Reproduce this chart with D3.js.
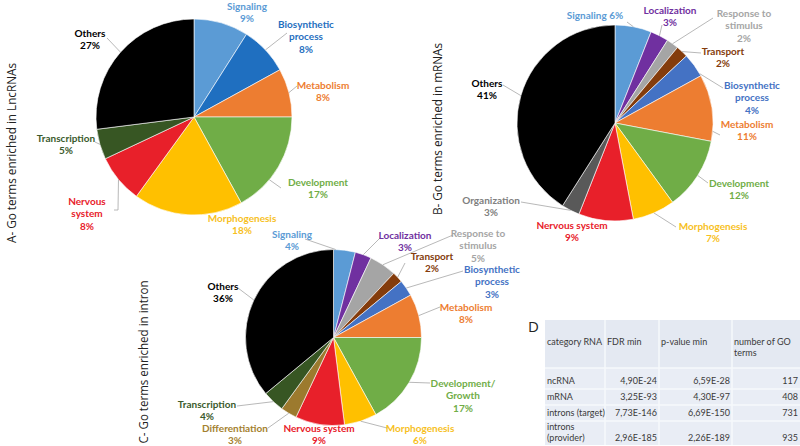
<!DOCTYPE html>
<html>
<head>
<meta charset="utf-8">
<script src="https://cdn.jsdelivr.net/npm/d3@7"></script>
<style>
  body { margin: 0; background: #fff; }
  svg { display: block; font-family: Lato, "Open Sans", sans-serif; }
</style>
</head>
<body>
<div id="chart"></div>
<script>
// A - GO terms in lncRNAs
const categoriesA = ["Signaling", "Biosynthetic\nprocess", "Metabolism", "Development", "Morphogenesis", "Nervous\nsystem", "Transcription", "Others"];
const valuesA = [9, 8, 8, 17, 18, 8, 5, 27];

// B - GO terms in mRNAs
const categoriesB = ["Signaling", "Localization", "Response to\nstimulus", "Transport", "Biosynthetic\nprocess", "Metabolism", "Development", "Morphogenesis", "Nervous system", "Organization", "Others"];
const valuesB = [6, 3, 2, 2, 4, 11, 12, 7, 9, 3, 41];

// C - GO terms in introns
const categoriesC = ["Signaling", "Localization", "Response to\nstimulus", "Transport", "Biosynthetic\nprocess", "Metabolism", "Development/\nGrowth", "Morphogenesis", "Nervous system", "Differentiation", "Transcription", "Others"];
const valuesC = [4, 3, 5, 2, 3, 8, 17, 6, 9, 3, 4, 36];

// D - table
const tableHeaders = ["category RNA", "FDR min", "p-value min", "number of GO\nterms"];
const rnaCategories = ["ncRNA", "mRNA", "introns (target)", "introns\n(provider)"];
const fdrMin = ["4,90E-24", "3,25E-93", "7,73E-146", "2,96E-185"];
const pValueMin = ["6,59E-28", "4,30E-97", "6,69E-150", "2,26E-189"];
const goTermCounts = [117, 408, 731, 935];

const titles = ["A- Go terms enriched  in LncRNAs", "B- Go terms enriched  in mRNAs", "C- Go terms enriched  in intron"];

/*
COLOURS
*/
const palette = {
    Signaling: "#5b9bd5", Localization: "#7030a0", Response: "#a5a5a5", Transport: "#843c0c",
    Biosynthetic: "#4472c4", Metabolism: "#ed7d31", Development: "#70ad47", Morphogenesis: "#ffc000",
    Nervous: "#e8202a", Organization: "#595959", Differentiation: "#9c7a2e", Transcription: "#375623",
    Others: "#000000"
};
const textColor = { Organization: "#808080", Morphogenesis: "#f7bf1e", Transcription: "#3b5a2c", Differentiation: "#a4812f" };
const key = name => name.split(/[ \/\n]/)[0];

/*
LABEL LAYOUT (first line centre, leader line)
*/
const layoutA = [
    { x: 247, y: 6 },
    { x: 306, y: 24, lead: [[287, 33]] },
    { x: 323, y: 85, lead: [[297, 86]] },
    { x: 318, y: 182, t: 0.65, lead: [[281, 188]] },
    { x: 242, y: 218 },
    { x: 87, y: 201, lead: [[118, 210], [114, 210]] },
    { x: 66, y: 138, lead: [[95, 142]] },
    { x: 90, y: 33, lead: [[107, 38]] }
];
const layoutB = [
    { x: 595, y: 15, inline: true, lead: [[627, 22]] },
    { x: 670, y: 10, lead: [[662, 25]] },
    { x: 744, y: 13, lead: [[713, 18]] },
    { x: 723, y: 51, lead: [[701, 53]] },
    { x: 752, y: 85, t: 0.9, lead: [[723, 88]] },
    { x: 747, y: 124, t: 0.85, lead: [[720, 135]] },
    { x: 739, y: 183, lead: [[708, 183]] },
    { x: 713, y: 226, lead: [[676, 227]] },
    { x: 572, y: 225 },
    { x: 491, y: 200, lead: [[521, 202]] },
    { x: 487, y: 83, lead: [[503, 85]] }
];
const layoutC = [
    { x: 292, y: 234, t: 0.1, lead: [[305, 239]] },
    { x: 405, y: 235, lead: [[380, 238]] },
    { x: 478, y: 233, lead: [[453, 235]] },
    { x: 432, y: 256, lead: [[405, 263]] },
    { x: 492, y: 269, lead: [[463, 271]] },
    { x: 466, y: 307, lead: [[440, 307]] },
    { x: 463, y: 383, lead: [[430, 383]] },
    { x: 420, y: 428, lead: [[387, 428]] },
    { x: 319, y: 428 },
    { x: 235, y: 428, lead: [[268, 428]] },
    { x: 207, y: 404, lead: [[237, 406]] },
    { x: 223, y: 286, lead: [[238, 288]] }
];

const width = 800, height = 446;
const svg = d3.select("#chart").append("svg")
    .attr("width", width)
    .attr("height", height);

const pie = d3.pie().sort(null).value(d => d.value);

function drawPie(cats, vals, cx, cy, r, layout, override = {}) {
    const data = pie(cats.map((c, i) => ({ name: c, value: vals[i] })));
    const arc = d3.arc().innerRadius(0).outerRadius(r);
    const g = svg.append("g").attr("transform", `translate(${cx},${cy})`);

    g.selectAll("path")
        .data(data)
        .enter()
        .append("path")
        .attr("d", arc)
        .attr("fill", d => override[key(d.data.name)] || palette[key(d.data.name)])
        .attr("stroke", "#fff")
        .attr("stroke-width", 0.6);

    // leader lines
    data.forEach(function (d, i) {
        const lay = layout[i];
        if (!lay.lead) return;
        const t = lay.t === undefined ? 0.5 : lay.t;
        const p = d3.pointRadial(d.startAngle + t * (d.endAngle - d.startAngle), r);
        const pts = [[cx + p[0], cy + p[1]]].concat(lay.lead);
        svg.append("path")
            .attr("d", d3.line()(pts))
            .attr("fill", "none")
            .attr("stroke", "#a6a6a6")
            .attr("stroke-width", 0.8);
    });

    // labels
    data.forEach(function (d, i) {
        const lay = layout[i];
        const k = key(d.data.name);
        const pct = d.data.value + "%";
        const lines = lay.inline ? [d.data.name + " " + pct] : d.data.name.split("\n").concat([pct]);
        const txt = svg.append("text")
            .attr("text-anchor", "middle")
            .attr("font-size", 10)
            .attr("font-weight", "bold")
            .attr("fill", textColor[k] || override[k] || palette[k]);
        lines.forEach(function (line, j) {
            txt.append("tspan")
                .attr("x", lay.x)
                .attr("y", lay.y + j * 12.5 + 3.5)
                .text(line);
        });
    });
}

drawPie(categoriesA, valuesA, 194, 117, 98, layoutA, { Biosynthetic: "#1f6fc0" });
drawPie(categoriesB, valuesB, 615, 123, 98, layoutB);
drawPie(categoriesC, valuesC, 333.5, 337.5, 88, layoutC);

/*
VERTICAL TITLES
*/
const titlePos = [{ x: 11, y: 153, len: 180 }, { x: 437, y: 129, len: 172 }, { x: 143, y: 362, len: 163 }];
titles.forEach(function (t, i) {
    const p = titlePos[i];
    svg.append("text")
        .attr("transform", `translate(${p.x},${p.y}) rotate(-90)`)
        .attr("text-anchor", "middle")
        .attr("dominant-baseline", "central")
        .attr("font-family", "'Open Sans', sans-serif")
        .attr("font-size", 12.5)
        .attr("fill", "#222")
        .attr("textLength", p.len)
        .attr("lengthAdjust", "spacingAndGlyphs")
        .text(t);
});

/*
TABLE D
*/
svg.append("text")
    .attr("x", 528)
    .attr("y", 332)
    .attr("font-family", "'Open Sans', sans-serif")
    .attr("font-size", 15)
    .attr("fill", "#222")
    .text("D");

const colEdges = [545, 605, 659, 732, 800];
const rowEdges = [320, 368, 389, 405, 421, 445];
const table = svg.append("g");

table.append("rect")
    .attr("x", colEdges[0]).attr("y", rowEdges[0])
    .attr("width", colEdges[4] - colEdges[0]).attr("height", rowEdges[5] - rowEdges[0])
    .attr("fill", "#e9edf5");
table.append("rect")
    .attr("x", colEdges[0]).attr("y", rowEdges[0])
    .attr("width", colEdges[4] - colEdges[0]).attr("height", rowEdges[1] - rowEdges[0])
    .attr("fill", "#e4e9f2");

colEdges.slice(1, 4).forEach(function (x) {
    table.append("line")
        .attr("x1", x).attr("x2", x)
        .attr("y1", rowEdges[0]).attr("y2", rowEdges[5])
        .attr("stroke", "#f6f8fb").attr("stroke-width", 1.5);
});
rowEdges.slice(1, 5).forEach(function (y) {
    table.append("line")
        .attr("x1", colEdges[0]).attr("x2", colEdges[4])
        .attr("y1", y).attr("y2", y)
        .attr("stroke", "#f6f8fb").attr("stroke-width", 1.5);
});

function cellText(str, x, y, anchor) {
    const txt = table.append("text")
        .attr("font-size", 9)
        .attr("fill", "#3a3a3a")
        .attr("text-anchor", anchor);
    str.split("\n").forEach(function (line, j) {
        txt.append("tspan").attr("x", x).attr("y", y + j * 11).text(line);
    });
}

tableHeaders.forEach(function (h, i) {
    cellText(h, colEdges[i] + 2, 345, "start");
});

const rowCentres = [381, 397, 413, 438];
rnaCategories.forEach(function (c, i) {
    const lines = c.split("\n").length;
    cellText(c, colEdges[0] + 2, rowCentres[i] + 3 - (lines - 1) * 11, "start");
    cellText(fdrMin[i], colEdges[2] - 2, rowCentres[i] + 3, "end");
    cellText(pValueMin[i], colEdges[3] - 2, rowCentres[i] + 3, "end");
    cellText(String(goTermCounts[i]), colEdges[4] - 2, rowCentres[i] + 3, "end");
});
</script>
</body>
</html>
